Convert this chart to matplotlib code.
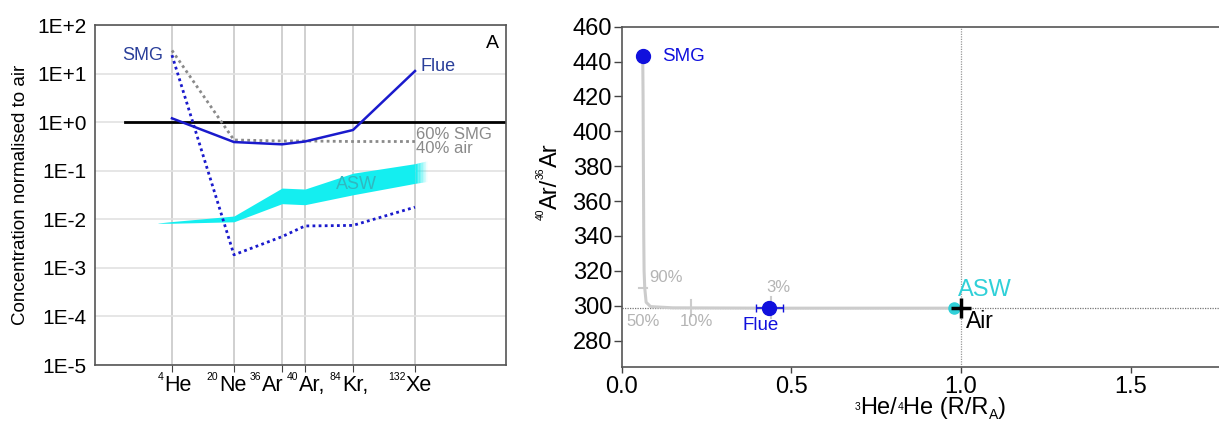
import numpy as np
import matplotlib
matplotlib.use("Agg")
import matplotlib.pyplot as plt
import matplotlib.transforms as mtransforms

plt.rcParams['font.family'] = ['Liberation Sans', 'DejaVu Sans']

######################################
## Data, panel A #####################
######################################
iso_mass = ["4", "20", "36", "40", "84", "132"]
iso_name = ["He", "Ne", "Ar", "Ar,", "Kr,", "Xe"]
iso_pos = [77, 139, 187, 210, 258, 320]

flue = [1.2, 0.39, 0.35, 0.40, 0.69, 11.3]
smg = [24, 1.86e-3, 4.4e-3, 7.3e-3, 7.5e-3, 1.78e-2]
mix60 = [30, 0.43, 0.41, 0.41, 0.40, 0.40]

asw_x = [63, 77, 139, 187, 210, 258, 320]
asw_lo = [8.3e-3, 8.3e-3, 8.9e-3, 0.021, 0.020, 0.032, 0.055]
asw_hi = [8.4e-3, 9.0e-3, 1.17e-2, 0.044, 0.042, 0.089, 0.14]
asw_end_x = 332
asw_end_lo, asw_end_hi = 0.06, 0.16

yticks_A = [1e-5, 1e-4, 1e-3, 1e-2, 1e-1, 1, 10, 100]
ylabels_A = ["1E-5", "1E-4", "1E-3", "1E-2", "1E-1", "1E+0", "1E+1", "1E+2"]

######################################
## Data, panel B #####################
######################################
smg_B = (0.062, 443)
flue_B = (0.435, 298.8)
flue_B_err = 0.039
asw_B = (0.978, 298.6)
air_B = (1.0, 298.6)

mix_x = [0.062, 0.063, 0.064, 0.065, 0.066, 0.068, 0.072, 0.085, 0.15, 0.44, 1.0]
mix_y = [443, 420, 380, 340, 320, 310, 302, 299.5, 298.8, 298.6, 298.6]

pct_labels = ["90%", "50%", "10%", "3%"]
pct_xy = [(0.081, 316), (0.015, 291), (0.17, 291), (0.426, 310.5)]


def chain(ax, prev, pieces, rot=0):
    # pieces: (text, fontsize, raise in points relative to the big text)
    last_raise = 0
    for txt, size, rs in pieces:
        dr = rs - last_raise
        if rot == 0:
            xy, off = (1, 0), (0, dr)
        else:
            xy, off = (1, 1), (-dr, 0)
        prev = ax.annotate(txt, xy=xy, xycoords=prev, xytext=off,
                           textcoords="offset points", fontsize=size,
                           ha="left", va="bottom", rotation=rot,
                           rotation_mode="anchor", annotation_clip=False)
        last_raise = rs
    return prev


######################################
## Plot ##############################
######################################
fig = plt.figure(figsize=(12.19, 4.24), dpi=100)
frame = "#555555"

# ---- panel A ----
ax1 = fig.add_axes([0.0779, 0.139, 0.3372, 0.802])
ax1.set_yscale("log")
ax1.set_xlim(0, 411)
ax1.set_ylim(1e-5, 1e2)
for p in iso_pos:
    ax1.axvline(p, color="#c8c8c8", lw=1.2, zorder=0)
for t in yticks_A:
    ax1.axhline(t, color="#e2e2e2", lw=1.2, zorder=0)

ax1.fill_between(asw_x, asw_lo, asw_hi, color="#14eef0", lw=0, zorder=1)
nfade = 8
fx = np.linspace(asw_x[-1], asw_end_x, nfade + 1)
flo = np.linspace(asw_lo[-1], asw_end_lo, nfade + 1)
fhi = np.linspace(asw_hi[-1], asw_end_hi, nfade + 1)
for i in range(nfade):
    ax1.fill_between(fx[i:i+2], flo[i:i+2], fhi[i:i+2], color="#14eef0",
                     alpha=1 - (i + 0.5) / nfade, lw=0, zorder=1)

ax1.plot([30, 411], [1, 1], color="black", lw=2, zorder=2)
ax1.plot(iso_pos, mix60, color="#8a8a8a", lw=2, ls=(0, (1, 1.2)), zorder=3)
ax1.plot(iso_pos, smg, color="#1a1acc", lw=2, ls=(0, (1, 1.2)), zorder=3)
ax1.plot(iso_pos, flue, color="#1a1acc", lw=1.8, zorder=4)

ax1.text(48, 24, "SMG", color="#2a3f9a", fontsize=13, ha="center", va="center")
ax1.text(326, 14, "Flue", color="#2a3f9a", fontsize=13, ha="left", va="center")
ax1.text(321, 0.40, "60% SMG\n40% air", color="#8a8a8a", fontsize=12,
         ha="left", va="center", linespacing=0.95)
ax1.text(261, 0.052, "ASW", color="#30b8c0", fontsize=13, ha="center", va="center", zorder=2)
ax1.text(404, 42, "A", fontsize=14, ha="right", va="center")

ax1.set_yticks(yticks_A)
ax1.set_yticklabels(ylabels_A)
ax1.minorticks_off()
ax1.set_xticks(iso_pos)
ax1.set_xticklabels([])
ax1.tick_params(axis="y", length=0, labelsize=15, pad=6)
ax1.tick_params(axis="x", direction="out", length=5, color="#444444")

# isotope labels: small mass number, then element name
trans = mtransforms.blended_transform_factory(ax1.transData, ax1.transAxes)
name_shift = [-8, -15, -20, -6, -11, -9]
for m, n, p, d in zip(iso_mass, iso_name, iso_pos, name_shift):
    ax1.text(p + d, -0.0756, n, transform=trans, fontsize=15.5, ha="left", va="baseline")
    ax1.text(p + d - 0.5, -0.044, m, transform=trans, fontsize=7.5, ha="right", va="baseline")

ax1.set_ylabel("Concentration normalised to air", fontsize=13.5, labelpad=6)
for s in ax1.spines.values():
    s.set_color(frame)
    s.set_linewidth(1.2)

# ---- panel B ----
ax2 = fig.add_axes([0.510, 0.135, 0.5568, 0.802])
ax2.set_xlim(0, 2.0)
ax2.set_ylim(265, 460)
ax2.axhline(air_B[1], color="#777777", lw=0.9, ls=(0, (1, 1)), zorder=1)
ax2.axvline(air_B[0], color="#999999", lw=0.9, ls=(0, (1, 1)), zorder=1)

ax2.plot(mix_x, mix_y, color="#cccccc", lw=2.2, zorder=2)
ax2.plot([0.05, 0.075], [310, 310], color="#cccccc", lw=1.5, zorder=2)
ax2.plot([0.205, 0.205], [294, 303], color="#cccccc", lw=1.5, zorder=2)
ax2.plot([0.44, 0.44], [293, 305], color="#cccccc", lw=1.5, zorder=2)
for lab, (x, y) in zip(pct_labels, pct_xy):
    ax2.text(x, y, lab, color="#b4b4b4", fontsize=12, ha="left", va="center")

ax2.errorbar([flue_B[0]], [flue_B[1]], xerr=[flue_B_err], fmt="o", color="#1010dd",
             ms=10, capsize=3, elinewidth=1.2, zorder=4)
ax2.plot([smg_B[0]], [smg_B[1]], "o", color="#1010dd", ms=10, zorder=4)
ax2.plot([asw_B[0]], [asw_B[1]], "o", color="#30d0d8", ms=8, zorder=4)
ax2.plot([air_B[0]], [air_B[1]], "+", color="black", ms=14, mew=2.5, zorder=5)

ax2.text(0.12, 443, "SMG", color="#1010dd", fontsize=13.5, ha="left", va="center")
ax2.text(0.357, 288.5, "Flue", color="#1010dd", fontsize=13.5, ha="left", va="center")
ax2.text(0.99, 309, "ASW", color="#30d0d8", fontsize=17, ha="left", va="center")
ax2.text(1.015, 291, "Air", color="black", fontsize=16.5, ha="left", va="center")
ax2.text(1.765, 450, "B", fontsize=15, ha="left", va="center")

ax2.set_xticks([0.0, 0.5, 1.0, 1.5])
ax2.set_xticklabels(["0.0", "0.5", "1.0", "1.5"])
ax2.set_yticks(np.arange(280, 461, 20))
ax2.tick_params(axis="y", length=6, width=1, color="#444444", labelsize=17, pad=1)
ax2.tick_params(axis="x", length=4.5, width=1, color="#444444", labelsize=17, pad=2)

# x label: 3He/4He (R/RA) with small raised mass numbers
big, sup = 17, 7.5
xl = ax2.text(0.352, -0.155, "He/", transform=ax2.transAxes, fontsize=big,
              ha="left", va="bottom", clip_on=False)
ax2.annotate("3", xy=(0, 0), xycoords=xl, xytext=(0, 5.5), textcoords="offset points",
             fontsize=sup, ha="right", va="bottom", annotation_clip=False)
chain(ax2, xl, [("4", sup, 5.5), ("He (R/R", big, 0), ("A", 10, -1.5), (")", big, 0)])

# y label: 40Ar/36Ar, rotated, mass numbers level with the cap tops
yl = ax2.text(-0.0884, 0.464, "Ar/", transform=ax2.transAxes, fontsize=big,
              ha="left", va="bottom", rotation=90, rotation_mode="anchor", clip_on=False)
ax2.annotate("40", xy=(1, 0), xycoords=yl, xytext=(-11.5, 0), textcoords="offset points",
             fontsize=sup, ha="right", va="bottom", rotation=90, rotation_mode="anchor",
             annotation_clip=False)
chain(ax2, yl, [("36", sup, 11.5), ("Ar", big, 0)], rot=90)

for s in ax2.spines.values():
    s.set_color(frame)
    s.set_linewidth(1.2)

fig.savefig("out.png", dpi=100)
